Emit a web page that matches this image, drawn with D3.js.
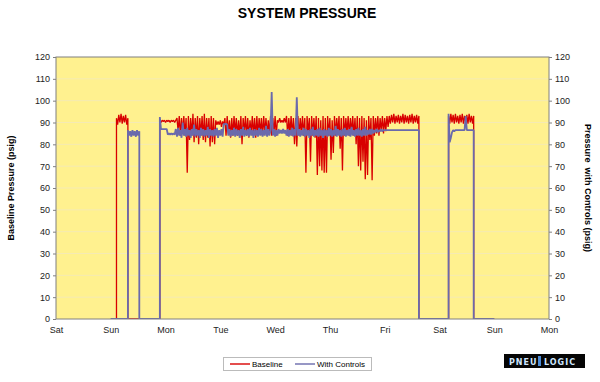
<!DOCTYPE html>
<html>
  <head>
    <meta charset="utf-8">
    <script src="https://cdnjs.cloudflare.com/ajax/libs/d3/7.8.5/d3.min.js"></script>
    <style>
      body { margin: 0; background: #fff; }
      text { font-family: "Liberation Sans", Arial, sans-serif; }
    </style>
  </head>
  <body>
    <div id="vis"></div>
    <script type="text/javascript">

        // x axis: hours from Saturday 00:00, one label per day
        const dayLabels = ["Sat", "Sun", "Mon", "Tue", "Wed", "Thu", "Fri", "Sat", "Sun", "Mon"];
        const yTicks = [0, 10, 20, 30, 40, 50, 60, 70, 80, 90, 100, 110, 120];

        // samples are half an hour apart inside each run
        const STEP = 0.5;

        // Baseline (psig)
        const baselineSun = [92, 89, 93.5, 90, 94, 89.5, 93, 90, 93.5, 89, 92];
        const baselineMon = [
            91, 90, 91, 90.5, 91, 90, 91, 90.5, 91, 90, 91, 90.5, 91, 90, 91,
            92, 86, 93, 84, 92, 85, 93, 84,
            92, 67,
            93, 82, 92, 84, 94, 81, 92, 83, 93, 80, 92, 84, 93, 82, 94, 81, 92, 83,
            92, 79, 93, 81, 92, 80,
            91, 89, 90.5, 89, 91, 88, 90.5, 89
        ];
        const baselineTue = [
            92, 84, 93, 85, 91, 83, 92, 84, 93, 85, 92, 84, 91, 84, 93, 80,
            92, 85, 93, 84, 92, 83, 91, 85, 93, 84, 92, 83, 93, 84, 92, 85,
            92, 84, 93, 85, 92, 84, 91, 85, 93, 84, 92, 85, 93, 84,
            91, 90, 92, 90, 91, 90, 92, 90,
            93, 84, 92, 85, 93, 84, 92, 80
        ];
        const baselineThu = [
            92, 79, 93, 84, 92, 85, 93, 84, 92, 67, 93, 85, 92, 72, 93, 84,
            92, 83, 93, 66, 92, 70, 91, 68, 93, 67, 92, 67, 93, 84, 92, 73,
            91, 76, 93, 84, 92, 85, 93, 78, 92, 68, 93, 84, 92, 85, 93, 84,
            92, 85, 93, 84, 92, 80, 93, 70, 92, 68, 93, 72, 92, 64, 91, 66,
            93, 82, 92, 63.5, 93, 84, 92, 85, 93, 84, 92, 86, 93, 85, 92, 86,
            93, 88
        ];
        const baselineFri = [
            93, 89.5, 93.5, 90, 94, 89.5, 93, 90, 93.5, 89.5, 93, 90, 94, 89.5,
            93.5, 90, 93, 89.5, 93.5, 90, 94, 89.5, 93, 90, 93.5, 89.5, 93
        ];
        const baselineSat = [
            93, 89.5, 94, 90, 93.5, 89.5, 94, 90, 93, 89.5, 93.5, 90,
            94, 89.5, 93, 90, 93.5, 89.5, 94, 90, 93, 89.5, 93
        ];

        // With Controls (psig)
        const controlsSun = [86.5, 84, 86, 83.5, 86.5, 84, 86, 83.5, 86.5, 84, 86];
        const controlsMon = [92.5, 87, 87, 87, 87, 87, 87, 84.5, 85, 84.5, 85, 84.5, 85, 84.5];
        const controlsTue = [
            87, 83.5, 87.5, 84, 86.5, 83, 90, 84, 87, 83.5, 87.5, 84, 86.5, 83,
            87, 84, 89, 83.5, 87, 84, 86.5, 83, 87.5, 84, 87, 83.5, 86.5, 84,
            88, 83, 87, 84, 86.5, 83.5, 87, 84, 87.5, 83, 86.5, 84, 87, 83.5,
            89.5, 89, 89.5, 89
        ];
        const controlsWed = [
            84, 87, 83.5, 86.5, 84, 87.5, 83.5, 87, 84, 86.5, 83, 87, 84, 88,
            83.5, 86.5, 84, 87, 83.5, 87.5, 84, 86.5, 83, 87, 84, 86.5, 83.5,
            87.5, 84, 87, 83.5, 86.5, 84, 88.5, 83.5, 87, 84, 86.5,
            104,
            84, 87, 83.5, 86.5, 84, 87, 85, 86.5, 85, 87, 85, 86.5, 84, 87,
            83.5, 86.5, 84, 87.5, 83.5, 87, 84,
            101.5
        ];
        const controlsThu = [
            84, 87, 83.5, 86.5, 84, 87.5, 83.5, 87, 84, 86.5, 83, 87, 84, 88,
            83.5, 86.5, 84, 87, 83.5, 87.5, 84, 86.5, 83, 87, 84, 86.5, 83.5,
            87.5, 84, 87, 83.5, 86.5, 84, 88.5, 83.5, 87, 84, 86.5, 83.5, 87,
            84, 87.5, 83.5, 86.5, 84, 87, 83.5, 88, 84, 86.5, 83.5, 87, 84,
            87.5, 84, 86.5, 83.5, 87, 84, 88, 84, 86.5, 84.5, 87, 84.5, 87,
            85, 86.5, 85.5, 87, 85.5, 86.5, 86, 87, 86, 86.5, 86.5, 86.5,
            86.5, 86.5, 86.5
        ];
        const controlsSat = [94, 81, 83, 85.5, 86.5, 86, 86.5];
        const controlsSatBlip = [86.5, 93, 86.5];

        // [start hour, samples]
        const baselinePieces = [
            [24, [0]], [26.5, [0]], [26.5, baselineSun], [31.5, [0]],
            [45.5, [0]], [45.5, baselineMon], [74, baselineTue], [105, baselineThu],
            [146, baselineFri], [159, [0]], [172, [0]], [172, baselineSat],
            [183, [0]], [192, [0]]
        ];
        const controlsPieces = [
            [24, [0]], [31.5, [0]], [31.5, controlsSun], [36.5, [0]],
            [45.5, [0]], [45.5, controlsMon], [52.5, controlsTue], [75.5, controlsWed],
            [106, controlsThu], [159, [86.5]], [159, [0]], [172, [0]],
            [172, controlsSat], [179, controlsSatBlip], [183, [86.5]],
            [183, [0]], [192, [0]]
        ];

        function toPoints(pieces) {
            const pts = [];
            pieces.forEach(([t0, vals]) => vals.forEach((v, i) => pts.push([t0 + i * STEP, v])));
            return pts;
        }

        const width = 600, height = 382;
        const plot = {left: 56, right: 549, top: 57, bottom: 319};

        const svg = d3.select("#vis")
            .append("svg")
            .attr("width", width)
            .attr("height", height);

        const x = d3.scaleLinear()
            .domain([0, (dayLabels.length - 1) * 24])
            .range([plot.left, plot.right]);
        const y = d3.scaleLinear()
            .domain([0, 120])
            .range([plot.bottom, plot.top]);

        // title
        svg.append("text")
            .attr("x", 307)
            .attr("y", 18)
            .attr("text-anchor", "middle")
            .style("font-size", "14px")
            .style("font-weight", "bold")
            .text("SYSTEM PRESSURE");

        // plot background
        svg.append("rect")
            .attr("x", plot.left)
            .attr("y", plot.top)
            .attr("width", plot.right - plot.left)
            .attr("height", plot.bottom - plot.top)
            .attr("fill", "#fff18f");

        svg.append("g")
            .selectAll("line")
            .data(yTicks.slice(1, -1))
            .join("line")
            .attr("x1", plot.left)
            .attr("x2", plot.right)
            .attr("y1", d => y(d))
            .attr("y2", d => y(d))
            .attr("stroke", "#f5eab4")
            .attr("stroke-width", 1);

        // axes
        const styleAxis = g => {
            g.select(".domain").remove();
            g.selectAll(".tick line").attr("stroke", "#808080");
            g.selectAll(".tick text")
                .attr("fill", "#222")
                .style("font-size", "9px")
                .style("font-family", "'Liberation Sans', Arial, sans-serif");
        };

        svg.append("g")
            .attr("transform", `translate(${plot.left},0)`)
            .call(d3.axisLeft(y).tickValues(yTicks).tickSize(3).tickPadding(3))
            .call(styleAxis);

        svg.append("g")
            .attr("transform", `translate(${plot.right},0)`)
            .call(d3.axisRight(y).tickValues(yTicks).tickSize(3).tickPadding(3))
            .call(styleAxis);

        svg.append("g")
            .attr("transform", `translate(0,${plot.bottom})`)
            .call(d3.axisBottom(x)
                .tickValues(dayLabels.map((d, i) => i * 24))
                .tickFormat((d, i) => dayLabels[i])
                .tickSize(0)
                .tickPadding(8))
            .call(styleAxis);

        // series
        svg.append("clipPath")
            .attr("id", "clip")
            .append("rect")
            .attr("x", plot.left)
            .attr("y", plot.top)
            .attr("width", plot.right - plot.left)
            .attr("height", plot.bottom - plot.top);

        const line = d3.line()
            .x(d => x(d[0]))
            .y(d => y(d[1]));

        const series = [
            {name: "Baseline", color: "#d80000", width: 1.3, pts: toPoints(baselinePieces)},
            {name: "With Controls", color: "#6a6aac", width: 1.8, pts: toPoints(controlsPieces)}
        ];

        svg.append("g")
            .attr("clip-path", "url(#clip)")
            .selectAll("path")
            .data(series)
            .join("path")
            .attr("d", d => line(d.pts))
            .attr("fill", "none")
            .attr("stroke", d => d.color)
            .attr("stroke-width", d => d.width)
            .attr("stroke-linejoin", "bevel");

        // plot border
        svg.append("rect")
            .attr("x", plot.left)
            .attr("y", plot.top)
            .attr("width", plot.right - plot.left)
            .attr("height", plot.bottom - plot.top)
            .attr("fill", "none")
            .attr("stroke", "#808080")
            .attr("stroke-width", 1);

        // axis titles
        svg.append("text")
            .attr("transform", "translate(14,188) rotate(-90)")
            .attr("text-anchor", "middle")
            .style("font-size", "9px")
            .style("font-weight", "bold")
            .text("Baseline Pressure (psig)");

        svg.append("text")
            .attr("transform", "translate(585,188) rotate(90)")
            .attr("text-anchor", "middle")
            .style("font-size", "9px")
            .style("font-weight", "bold")
            .style("white-space", "pre")
            .text("Pressure  with Controls (psig)");

        // legend
        const legend = svg.append("g");
        legend.append("rect")
            .attr("x", 223.5)
            .attr("y", 357.5)
            .attr("width", 148)
            .attr("height", 13)
            .attr("fill", "#fff")
            .attr("stroke", "#bbb");
        const items = legend.selectAll("g")
            .data(series)
            .join("g")
            .attr("transform", (d, i) => `translate(${230 + i * 65},364)`);
        items.append("line")
            .attr("x1", 0)
            .attr("x2", 20)
            .attr("stroke", d => d.color)
            .attr("stroke-width", 1.4);
        items.append("text")
            .attr("x", 22)
            .attr("y", 3)
            .style("font-size", "8px")
            .text(d => d.name);

        // logo
        const logo = svg.append("g");
        logo.append("rect")
            .attr("x", 504)
            .attr("y", 354)
            .attr("width", 81)
            .attr("height", 14)
            .attr("fill", "#050505");
        logo.append("rect")
            .attr("x", 538)
            .attr("y", 356)
            .attr("width", 3)
            .attr("height", 10)
            .attr("fill", "#4a8ad6");
        logo.append("text")
            .attr("x", 509)
            .attr("y", 364.5)
            .attr("fill", "#cfe6ff")
            .style("font-family", "'DejaVu Sans', sans-serif")
            .style("font-size", "8px")
            .style("font-weight", "bold")
            .style("letter-spacing", "1px")
            .text("PNEU");
        logo.append("text")
            .attr("x", 544)
            .attr("y", 364.5)
            .attr("fill", "#cfe6ff")
            .style("font-family", "'DejaVu Sans', sans-serif")
            .style("font-size", "8px")
            .style("font-weight", "bold")
            .style("letter-spacing", "1px")
            .text("LOGIC");

    </script>
  </body>
</html>
